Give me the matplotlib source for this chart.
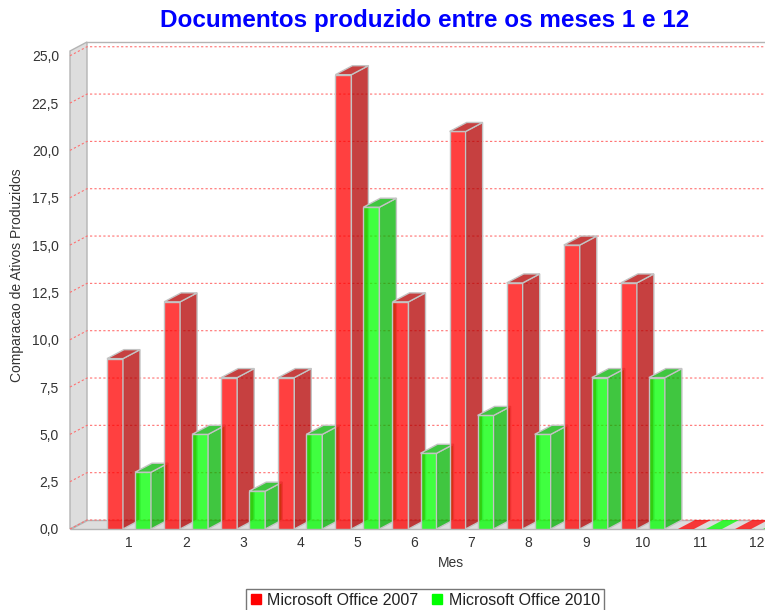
import matplotlib
matplotlib.use('Agg')
import matplotlib.pyplot as plt
from matplotlib.patches import Polygon
from matplotlib.lines import Line2D

plt.rcParams['font.family'] = ['Liberation Sans', 'DejaVu Sans']

# ---- data ----
months = ['1', '2', '3', '4', '5', '6', '7', '8', '9', '10', '11', '12']
office2007 = [9, 12, 8, 8, 24, 12, 21, 13, 15, 13, 0, 0]
office2010 = [3, 5, 2, 5, 17, 4, 6, 5, 8, 8, 0, 0]
series_names = ['Microsoft Office 2007', 'Microsoft Office 2010']
yticks = [0, 2.5, 5, 7.5, 10, 12.5, 15, 17.5, 20, 22.5, 25]
title = 'Documentos produzido entre os meses 1 e 12'
ylabel = 'Comparacao de Ativos Produzidos'
xlabel = 'Mes'

# ---- layout ----
W, H = 765, 610
fig = plt.figure(figsize=(W / 100, H / 100), dpi=100)
ax = fig.add_axes([70 / W, 1 - 529 / H, 695 / W, 487 / H])
ax.set_facecolor('none')

PX_CAT = 57.1      # pixels per category
PX_VAL = 18.93     # pixels per value unit
xl = (70 - 129) / PX_CAT
xr = (765 - 129) / PX_CAT
ytop = 487 / PX_VAL
DX = 17 / PX_CAT
DY = 9 / PX_VAL
ax.set_xlim(xl, xr)
ax.set_ylim(0, ytop)

wall_c = '#dddddd'
wall_e = '#b4b4b4'
# left wall
ax.add_patch(Polygon([(xl, 0), (xl + DX, DY), (xl + DX, ytop), (xl, ytop - DY)],
                     closed=True, facecolor=wall_c, edgecolor=wall_e, lw=1, zorder=1, clip_on=False))
# floor
ax.add_patch(Polygon([(xl, 0), (xr + 1, 0), (xr + 1, DY), (xl + DX, DY)],
                     closed=True, facecolor=wall_c, edgecolor=wall_e, lw=1, zorder=1, clip_on=False))
# back wall top outline
ax.plot([xl + DX, xr], [ytop, ytop], color=wall_e, lw=1, zorder=1, clip_on=False)

# gridlines
for v in yticks:
    ax.plot([xl, xl + DX, xr], [v, v + DY, v + DY], color='#ff7070',
            ls=(0, (2, 2)), lw=0.8, zorder=2, clip_on=False)

# bars
red_front = (1, 0, 0, 0.75)
red_side = (0.7, 0, 0, 0.75)
green_front = (0, 1, 0, 0.75)
green_side = (0, 0.7, 0, 0.75)
edge = '#c4c4c4'
w = 16 / PX_CAT
offsets = [-22 / PX_CAT, 6 / PX_CAT]
z = 3
for i in range(len(months)):
    for vals, off, fc, sc in ((office2007, offsets[0], red_front, red_side),
                              (office2010, offsets[1], green_front, green_side)):
        v = vals[i]
        x0 = i + off
        front = [(x0, 0), (x0 + w, 0), (x0 + w, v), (x0, v)]
        side = [(x0 + w, 0), (x0 + w + DX, DY), (x0 + w + DX, v + DY), (x0 + w, v)]
        top = [(x0, v), (x0 + w, v), (x0 + w + DX, v + DY), (x0 + DX, v + DY)]
        if v > 0:
            ax.add_patch(Polygon(front, closed=True, facecolor=fc, edgecolor=edge, lw=1, zorder=z))
            ax.add_patch(Polygon(side, closed=True, facecolor=sc, edgecolor=edge, lw=1, zorder=z))
            ax.add_patch(Polygon(top, closed=True, facecolor=sc, edgecolor=edge, lw=1, zorder=z))
        else:
            ax.add_patch(Polygon(top, closed=True, facecolor=fc, edgecolor='none', lw=0, zorder=z))
        z += 1

# ticks
for s in ax.spines.values():
    s.set_visible(False)
ax.set_yticks(yticks)
ax.set_yticklabels([('%.1f' % t).replace('.', ',') for t in yticks])
ax.set_xticks(range(len(months)))
ax.set_xticklabels(months)
ax.tick_params(axis='y', length=0, pad=8, labelsize=10, labelcolor='#333333')
ax.tick_params(axis='x', length=0, pad=5, labelsize=10, labelcolor='#333333')

fig.text(17 / W, 1 - 275 / H, ylabel, rotation=90, ha='center', va='center',
         fontsize=10, color='#333333')
fig.text(451 / W, 1 - 563 / H, xlabel, ha='center', va='center', fontsize=10, color='#333333')
fig.text(425 / W, 1 - 20 / H, title, ha='center', va='center', fontsize=17.5,
         fontweight='bold', color='#0000ff')

handles = [Line2D([], [], marker='s', ls='', color='#ff0000', markersize=7.5),
           Line2D([], [], marker='s', ls='', color='#00ff00', markersize=7.5)]
leg = fig.legend(handles, series_names, loc='upper center', bbox_to_anchor=(425 / W, 1 - 589 / H),
                 ncol=2, frameon=True, fancybox=False, edgecolor='#555555', fontsize=11.5,
                 handlelength=0.7, handletextpad=0.4, columnspacing=0.8, borderpad=0.25,
                 borderaxespad=0)
leg.get_frame().set_linewidth(1)
for t in leg.get_texts():
    t.set_color('#222222')

fig.savefig('out.png', dpi=100)
